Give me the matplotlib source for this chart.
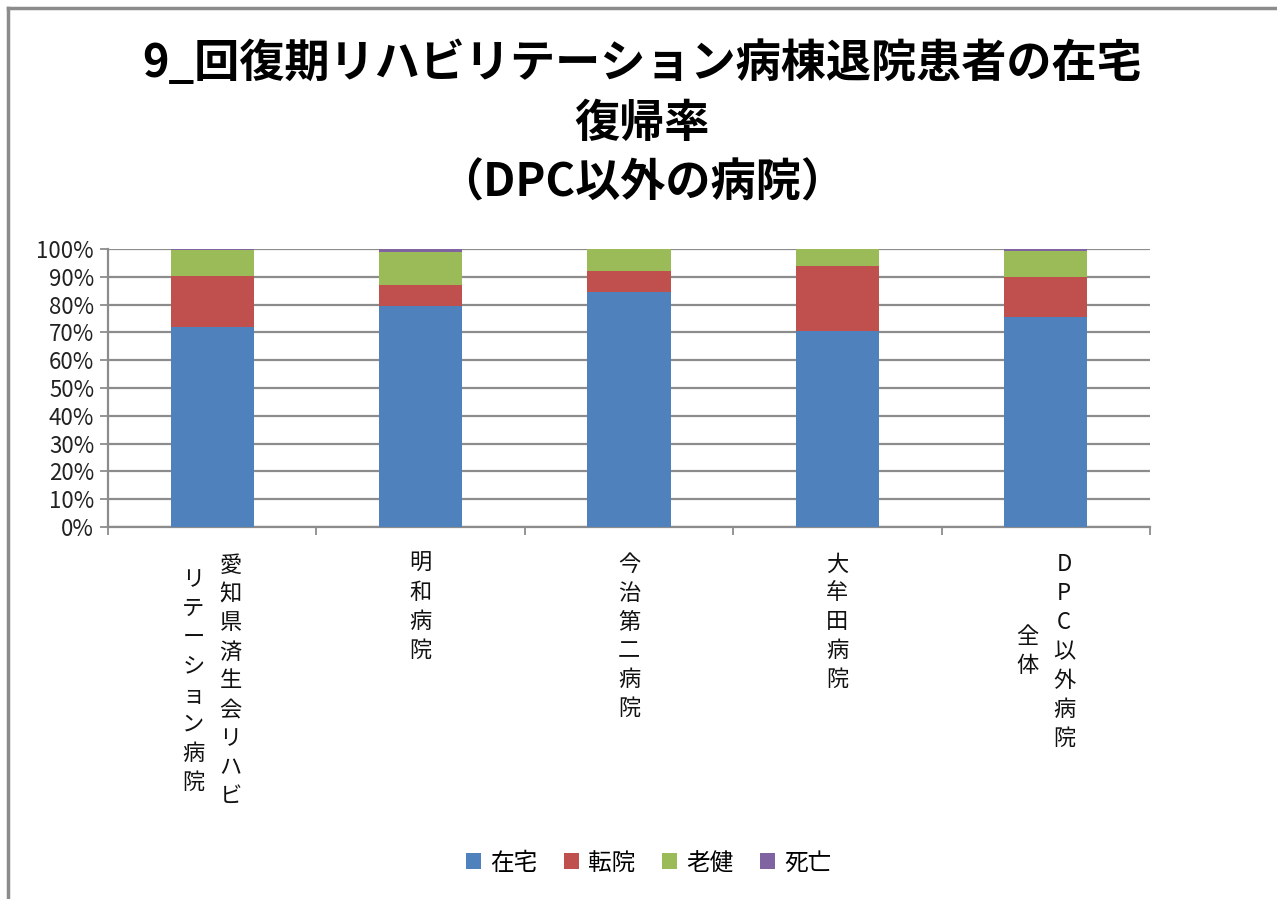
import matplotlib
matplotlib.use("Agg")
import matplotlib.pyplot as plt
import numpy as np
from matplotlib.patches import Patch
from matplotlib.lines import Line2D

plt.rcParams["font.family"] = ["Noto Sans CJK JP", "DejaVu Sans"]

# data (percent)
hospitals = ["愛知県済生会リハビリテーション病院", "明和病院", "今治第二病院", "大牟田病院", "DPC以外病院全体"]
label_columns = [["愛知県済生会リハビ", "リテーション病院"],
                 ["明和病院"],
                 ["今治第二病院"],
                 ["大牟田病院"],
                 ["DPC以外病院", "全体"]]
series_names = ["在宅", "転院", "老健", "死亡"]
zaitaku = [71.8, 79.6, 84.6, 70.4, 75.6]
tenin = [18.4, 7.5, 7.6, 23.6, 14.2]
roken = [9.5, 11.8, 7.7, 6.0, 9.6]
shibo = [0.3, 1.1, 0.1, 0.0, 0.6]
colors_ = ["#4F81BD", "#C0504D", "#9BBB59", "#8064A2"]

W, H = 1277, 899
fig = plt.figure(figsize=(W / 100, H / 100), dpi=100)
ax = fig.add_axes([108 / W, 1 - 527 / H, (1150 - 108) / W, (527 - 249) / H])

x = np.arange(len(hospitals))
bottom = np.zeros(len(hospitals))
for vals, c in zip([zaitaku, tenin, roken, shibo], colors_):
    ax.bar(x, vals, width=0.4, bottom=bottom, color=c, zorder=3)
    bottom += np.array(vals)

ax.set_xlim(-0.5, 4.5)
ax.set_ylim(0, 100)
ax.set_yticks(np.arange(0, 101, 10))
ax.set_yticklabels([f"{v}%" for v in range(0, 101, 10)], fontsize=16, color="#222222")
ax.yaxis.grid(True, color="#8c8c8c", linewidth=1.6, zorder=0)
ax.tick_params(axis="y", direction="out", length=6, width=1.3, color="#8c8c8c", pad=4)

ax.set_xticks([])
ax.set_xticks(np.arange(-0.5, 5, 1), minor=True)
ax.tick_params(axis="x", which="minor", direction="out", length=6, width=1.3, color="#8c8c8c")
for s in ["top", "right"]:
    ax.spines[s].set_visible(False)
for s in ["left", "bottom"]:
    ax.spines[s].set_color("#8c8c8c")
    ax.spines[s].set_linewidth(1.6)

# stacked vertical category labels
ax_h = 527 - 249
lh = 29.5
top_px = 21
for i, cols in enumerate(label_columns):
    nmax = max(len(c) for c in cols)
    yc = -(top_px + nmax * lh / 2) / ax_h
    if len(cols) == 1:
        offs = [0.0]
    else:
        offs = [0.088, -0.09]
    for col, off in zip(cols, offs):
        ax.text(i + off, yc, "\n".join(col), transform=ax.get_xaxis_transform(),
                ha="center", va="center", fontsize=16, linespacing=1.33, color="#111111")

# title
fig.text(0.503, 1 - 124 / H,
         "9_回復期リハビリテーション病棟退院患者の在宅\n復帰率\n（DPC以外の病院）",
         ha="center", va="center", fontsize=32.5, fontweight="bold", linespacing=1.38)

# legend
handles = [Patch(facecolor=c, edgecolor="none") for c in colors_]
fig.legend(handles, series_names, loc="center", bbox_to_anchor=(0.508, 1 - 863 / H),
           ncol=4, frameon=False, fontsize=17, handlelength=0.65, handleheight=0.65,
           handletextpad=0.4, columnspacing=1.1)

# chart frame lines (left and top)
fig.add_artist(Line2D([8 / W, 8 / W], [0, 1 - 8 / H], color="#8c8c8c", linewidth=2.5))
fig.add_artist(Line2D([8 / W, 1], [1 - 8 / H, 1 - 8 / H], color="#8c8c8c", linewidth=2.5))

fig.savefig("out.png", dpi=100)
